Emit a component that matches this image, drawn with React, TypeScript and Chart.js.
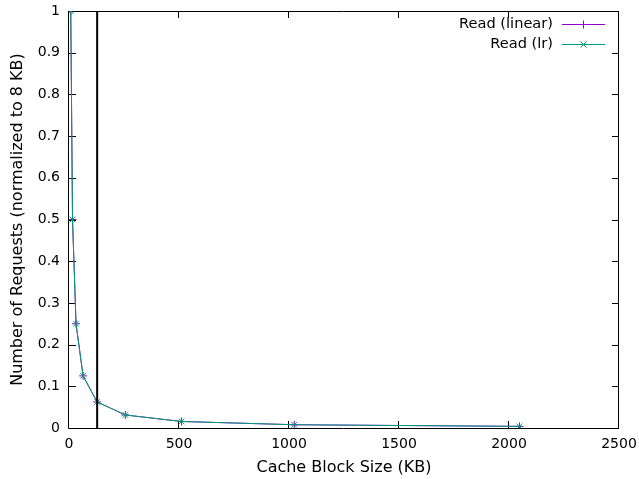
import { useEffect, useRef } from "react";
import { Chart, registerables } from "chart.js";

Chart.register(...registerables);

const blockSizes = [8, 16, 32, 64, 128, 256, 512, 1024, 2048];
const readLinear = [1, 0.5, 0.25, 0.125, 0.0625, 0.03125, 0.015625, 0.0078125, 0.00390625];
const readLr = [1, 0.5, 0.25, 0.125, 0.0625, 0.03125, 0.015625, 0.0078125, 0.00390625];
const cutoffBlockSize = 128;
const xTicks = [0, 500, 1000, 1500, 2000, 2500];
const yTicks = [0, 0.1, 0.2, 0.3, 0.4, 0.5, 0.6, 0.7, 0.8, 0.9, 1];

const FONT = "DejaVu Sans";

const framePlugin = {
  id: "gnuFrame",
  beforeDatasetsDraw(chart: any) {
    const { ctx, chartArea, scales } = chart;
    const { left, right, top, bottom } = chartArea;
    ctx.save();
    ctx.strokeStyle = "#000";
    ctx.lineWidth = 1;
    ctx.beginPath();
    ctx.rect(Math.round(left) - 0.5, Math.round(top) + 0.5, Math.round(right - left), Math.round(bottom - top));
    for (const v of xTicks) {
      const px = Math.round(scales.x.getPixelForValue(v)) - 0.5;
      ctx.moveTo(px, bottom);
      ctx.lineTo(px, bottom - 7);
      ctx.moveTo(px, top);
      ctx.lineTo(px, top + 7);
    }
    for (const v of yTicks) {
      const py = Math.round(scales.y.getPixelForValue(v)) + 0.5;
      ctx.moveTo(left, py);
      ctx.lineTo(left + 7, py);
      ctx.moveTo(right, py);
      ctx.lineTo(right - 7, py);
    }
    ctx.stroke();
    ctx.restore();
  },
  afterDatasetsDraw(chart: any) {
    const { ctx } = chart;
    const items = chart.data.datasets.filter((d: any) => d.showInKey);
    ctx.save();
    ctx.font = `14.6px "${FONT}"`;
    ctx.textAlign = "right";
    ctx.textBaseline = "middle";
    items.forEach((d: any, i: number) => {
      const y = 24 + i * 20;
      ctx.fillStyle = "#000";
      ctx.fillText(d.label, 553, y);
      ctx.strokeStyle = d.borderColor;
      ctx.lineWidth = 1;
      ctx.beginPath();
      ctx.moveTo(562, y + 0.5);
      ctx.lineTo(605, y + 0.5);
      const cx = 583.5;
      const r = 4;
      if (d.pointStyle === "cross") {
        ctx.moveTo(cx - r, y + 0.5);
        ctx.lineTo(cx + r, y + 0.5);
        ctx.moveTo(cx, y - r + 0.5);
        ctx.lineTo(cx, y + r + 0.5);
      } else {
        const q = r * 0.75;
        ctx.moveTo(cx - q, y - q + 0.5);
        ctx.lineTo(cx + q, y + q + 0.5);
        ctx.moveTo(cx - q, y + q + 0.5);
        ctx.lineTo(cx + q, y - q + 0.5);
      }
      ctx.stroke();
    });
    ctx.restore();
  },
};

const zeroPad = (s: any) => {
  s.paddingLeft = 0;
  s.paddingRight = 0;
  s.paddingTop = 0;
  s.paddingBottom = 0;
};

export default function App() {
  const ref = useRef<HTMLCanvasElement>(null);
  useEffect(() => {
    if (!ref.current) return;
    const chart = new Chart(ref.current, {
      type: "line",
      data: {
        datasets: [
          {
            label: "Read (linear)",
            data: blockSizes.map((x, i) => ({ x, y: readLinear[i] })),
            borderColor: "#9400d3",
            backgroundColor: "#9400d3",
            borderWidth: 1,
            pointStyle: "cross",
            pointRadius: 4,
            pointBorderWidth: 1,
            tension: 0,
            order: 2,
            showInKey: true,
          } as any,
          {
            label: "Read (lr)",
            data: blockSizes.map((x, i) => ({ x, y: readLr[i] })),
            borderColor: "#009e73",
            backgroundColor: "#009e73",
            borderWidth: 1,
            pointStyle: "crossRot",
            pointRadius: 4,
            pointBorderWidth: 1,
            tension: 0,
            order: 1,
            showInKey: true,
          } as any,
          {
            label: "cutoff",
            data: [
              { x: cutoffBlockSize, y: yTicks[0] },
              { x: cutoffBlockSize, y: yTicks[yTicks.length - 1] },
            ],
            borderColor: "#000",
            borderWidth: 2,
            pointRadius: 0,
            order: 0,
            showInKey: false,
          } as any,
        ],
      },
      options: {
        responsive: false,
        animation: false,
        layout: { padding: { top: 11, right: 20, left: 0, bottom: 0 } },
        plugins: { legend: { display: false }, tooltip: { enabled: false } },
        scales: {
          x: {
            type: "linear",
            min: xTicks[0],
            max: xTicks[xTicks.length - 1],
            grid: { display: false, drawTicks: false },
            border: { display: false },
            afterBuildTicks: (s: any) => {
              s.ticks = xTicks.map((v) => ({ value: v }));
            },
            afterFit: (s: any) => {
              s.height = 51;
              zeroPad(s);
            },
            ticks: {
              color: "#000",
              padding: 8,
              maxRotation: 0,
              font: { family: FONT, size: 14 },
              callback: (v: any) => String(v),
            },
            title: {
              display: true,
              text: "Cache Block Size (KB)",
              color: "#000",
              font: { family: FONT, size: 16 },
              padding: { top: 0, bottom: 2 },
            },
          },
          y: {
            type: "linear",
            min: yTicks[0],
            max: yTicks[yTicks.length - 1],
            grid: { display: false, drawTicks: false },
            border: { display: false },
            afterBuildTicks: (s: any) => {
              s.ticks = yTicks.map((v) => ({ value: v }));
            },
            afterFit: (s: any) => {
              s.width = 69;
              zeroPad(s);
            },
            ticks: {
              color: "#000",
              padding: 9,
              font: { family: FONT, size: 14 },
              callback: (v: any) => String(v),
            },
            title: {
              display: true,
              text: "Number of Requests (normalized to 8 KB)",
              color: "#000",
              font: { family: FONT, size: 16 },
              padding: { top: 8, bottom: 0 },
            },
          },
        },
      } as any,
      plugins: [framePlugin],
    });
    return () => chart.destroy();
  }, []);
  return (
    <div style={{ position: "fixed", left: 0, top: 0, width: 639, height: 479, background: "#fff" }}>
      <canvas ref={ref} width={639} height={479} />
    </div>
  );
}
